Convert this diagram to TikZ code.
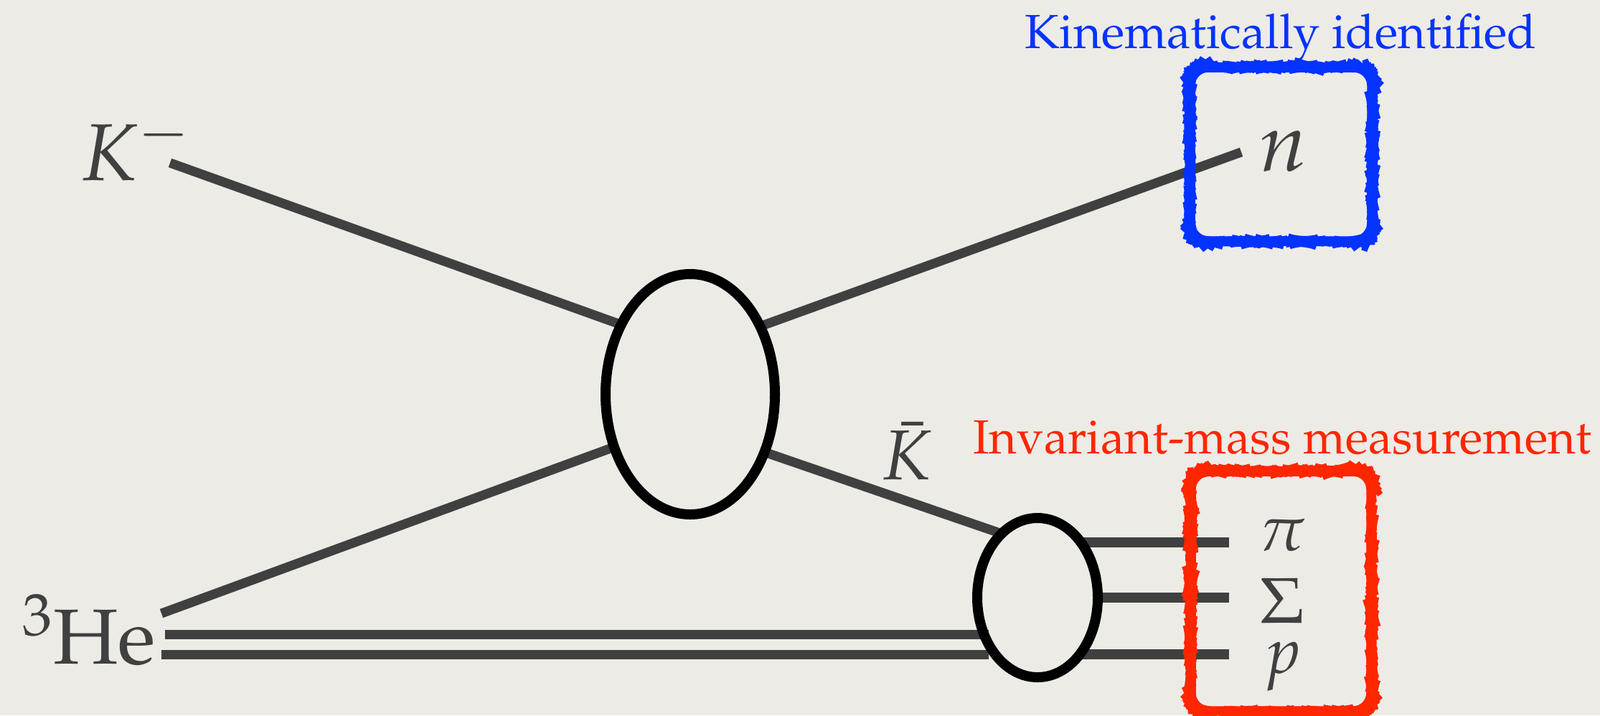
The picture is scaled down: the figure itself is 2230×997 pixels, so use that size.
\documentclass[tikz,border=0pt]{standalone}
\usepackage[T1]{fontenc}
\usepackage{mathpazo}
\usetikzlibrary{shapes.geometric,decorations.pathmorphing}
\pgfdeclarelayer{paperlayer}
\pgfdeclarelayer{background}
\pgfsetlayers{paperlayer,background,main}
\definecolor{paper}{RGB}{237,235,230}
\definecolor{ink}{RGB}{64,64,64}
\definecolor{kblue}{RGB}{4,51,255}
\definecolor{kred}{RGB}{255,38,0}
\tikzset{
  prop/.style={draw=ink, line width=1.3mm},
  blob/.style={ellipse, draw=black, line width=1.4mm, inner sep=0pt},
  lbl/.style={text=ink, inner sep=0pt, anchor=base},
  markbox/.style={draw=#1, line width=0.75mm, rounded corners=2.2mm, inner sep=0pt},
  rough/.style={decorate, decoration={random steps, segment length=0.25mm, amplitude=0.05mm}},
}
\begin{document}
\begin{tikzpicture}[x=0.1mm,y=-0.1mm]
\begin{pgfonlayer}{paperlayer}
\fill[paper] (0,0) rectangle (2230,997);
\end{pgfonlayer}
\useasboundingbox (0,0) rectangle (2230,997);

% vertices
\node[blob, minimum width=23.6mm, minimum height=33.5mm] (A) at (962,549.5) {};
\node[blob, minimum width=16.8mm, minimum height=22.2mm] (B) at (1446,833) {};

% labels
\node[lbl, font=\fontsize{32}{38}\selectfont] (Km) at (189,251) {$K^{-}$};
\node[lbl, font=\fontsize{31}{37}\selectfont] (He) at (124,925) {$^{3}$He};
\node[lbl, font=\fontsize{33}{40}\selectfont] (n) at (1789,238) {$n$};
\node[lbl, font=\fontsize{28}{34}\selectfont] (Kb) at (1264,668) {$\bar{K}$};
\node[lbl, font=\fontsize{25.6}{30}\selectfont] (pi) at (1787,767) {$\pi$};
\node[lbl, font=\fontsize{25.6}{30}\selectfont] (sig) at (1787,868) {$\Sigma$};
\node[lbl, font=\fontsize{25.6}{30}\selectfont] (p) at (1787,938) {$p$};
\node[lbl, text=kblue, font=\fontsize{19}{23}\selectfont] (kin) at (1785,67) {Kinematically identified};
\node[lbl, text=kred, font=\fontsize{19}{23}\selectfont] (inv) at (1787,632) {Invariant-mass measurement};

% boxes
\node[markbox=kblue, minimum width=24.7mm, minimum height=23.6mm] (nbox) at (1785.5,215) {};
\node[markbox=kred, minimum width=24.5mm, minimum height=32.8mm] (fbox) at (1785.5,824) {};
\draw[kblue, line width=0.85mm, rough, rounded corners=2.2mm] (nbox.south west) rectangle (nbox.north east);
\draw[kred, line width=0.85mm, rough, rounded corners=2.2mm] (fbox.south west) rectangle (fbox.north east);

% propagators
\begin{pgfonlayer}{background}
\coordinate (kmEnd) at (237,227);
\coordinate (nEnd) at (1730,212);
\coordinate (heEnd) at (225,855);
\coordinate (heA) at (230,884);
\coordinate (heAe) at (1378,884);
\coordinate (heB) at (225,912);
\coordinate (heBe) at (1378,912);
\coordinate (piS) at (1508,756);
\coordinate (piE) at (1713,756);
\coordinate (sigS) at (1530,833);
\coordinate (sigE) at (1713,833);
\coordinate (pS) at (1508,912);
\coordinate (pE) at (1713,912);
\draw[prop, shorten >=-0.4mm] (kmEnd) -- (A.136.8);
\draw[prop, shorten <=-0.4mm] (A.43.5) -- (nEnd);
\draw[prop, shorten >=-0.4mm] (heEnd) -- (A.214.7);
\draw[prop, shorten <=-0.4mm, shorten >=-0.4mm] (A.323.6) -- (B.122);
\draw[prop] (heA) -- (heAe);
\draw[prop] (heB) -- (heBe);
\draw[prop, line width=1.35mm] (piS) -- (piE);
\draw[prop, line width=1.35mm] (sigS) -- (sigE);
\draw[prop, line width=1.35mm] (pS) -- (pE);
\end{pgfonlayer}
\end{tikzpicture}
\end{document}
